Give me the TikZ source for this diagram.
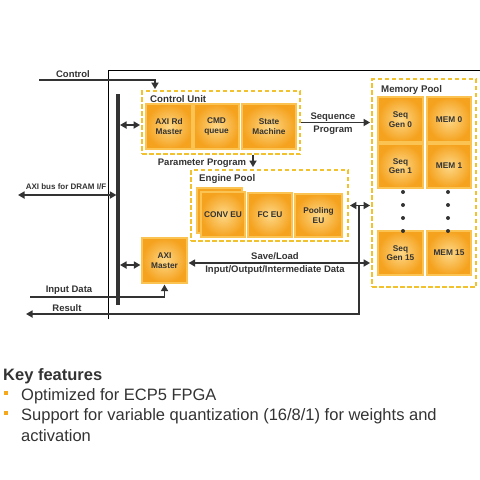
\documentclass[tikz,border=0pt]{standalone}
\usepackage{fontspec}
\setmainfont{Liberation Sans}
\usetikzlibrary{arrows.meta,calc}
\definecolor{ink}{HTML}{333333}
\definecolor{boxin}{HTML}{FDD888}
\definecolor{boxout}{HTML}{F5A21E}
\definecolor{boxline}{HTML}{FAC352}
\definecolor{pooldash}{HTML}{F2C12E}
\definecolor{bulletc}{HTML}{F6A81C}
\begin{document}
\begin{tikzpicture}[x=1pt,y=-1pt,
  blk/.style={draw=boxline, line width=1.2pt, inner color=boxin, outer color=boxout,
    inner sep=0pt, align=center, font=\fontsize{8.3}{9.6}\selectfont\bfseries, text=ink},
  poolbox/.style={draw=pooldash, line width=1.8pt, dash pattern=on 4.5pt off 2.5pt, inner sep=0pt},
  lbl/.style={font=\fontsize{9.5}{11}\selectfont\bfseries, text=ink, inner sep=0pt},
  ttl/.style={font=\fontsize{9.7}{11}\selectfont\bfseries, text=ink, inner sep=0pt, anchor=west},
  conn/.style={draw=ink, line width=1.8pt},
  arr/.style={conn, -{Triangle[length=6.5pt,width=7pt]}},
  darr/.style={conn, {Triangle[length=6.5pt,width=7pt]}-{Triangle[length=6.5pt,width=7pt]}},
  dotm/.style={circle, fill=ink, inner sep=0pt, minimum size=4pt},
  feat/.style={font=\fontsize{16.5}{19}\selectfont, text=ink, inner sep=0pt, anchor=base west},
  bul/.style={fill=bulletc, inner sep=0pt, minimum size=4pt}
]
\useasboundingbox (0,0) rectangle (480,480);

% outer frame
\draw[line width=0.8pt, black] (108,319) -- (108,70) -- (480,70);

% pools
\node[poolbox, minimum width=158pt, minimum height=63pt] (cu) at (221,122.5) {};
\node[poolbox, minimum width=157pt, minimum height=71pt] (ep) at (269.5,205.5) {};
\node[poolbox, minimum width=104pt, minimum height=208pt] (mp) at (424,183) {};
\node[ttl] (cut) at (150,99) {Control Unit};
\node[ttl] (ept) at (199,179) {Engine Pool};
\node[ttl] (mpt) at (381,90) {Memory Pool};

% control unit blocks
\node[blk, minimum width=46pt, minimum height=45pt] (axird) at (169,126.5) {AXI Rd\\Master};
\node[blk, minimum width=45pt, minimum height=45pt] (cmd) at (216.5,126.5) {CMD\\queue};
\node[blk, minimum width=54pt, minimum height=45pt] (sm) at (269,126.5) {State\\Machine};

% engine pool blocks
\node[blk, minimum width=45pt, minimum height=45pt] (convb) at (219.5,210.5) {};
\node[blk, minimum width=44pt, minimum height=45pt] (conv) at (223,214.5) {CONV EU};
\node[blk, minimum width=44pt, minimum height=44pt] (fc) at (270,215) {FC EU};
\node[blk, minimum width=47pt, minimum height=43pt] (pool) at (318.5,215.5) {Pooling\\EU};

% memory pool blocks
\node[blk, minimum width=45pt, minimum height=45pt] (sg0) at (400.5,119.5) {Seq\\Gen 0};
\node[blk, minimum width=44pt, minimum height=45pt] (mem0) at (449,119.5) {MEM 0};
\node[blk, minimum width=45pt, minimum height=44pt] (sg1) at (400.5,166) {Seq\\Gen 1};
\node[blk, minimum width=44pt, minimum height=44pt] (mem1) at (449,166) {MEM 1};
\node[blk, minimum width=45pt, minimum height=44pt] (sg15) at (400.5,253) {Seq\\Gen 15};
\node[blk, minimum width=44pt, minimum height=44pt] (mem15) at (449,253) {MEM 15};
\foreach \yy [count=\i] in {192,205,218,231}{
  \node[dotm] (da\i) at (403,\yy) {};
  \node[dotm] (db\i) at (448,\yy) {};
}

% AXI master
\node[blk, minimum width=45pt, minimum height=45pt] (axim) at (164.5,260.5) {AXI\\Master};

% bus
\coordinate (bt) at (118,94);
\coordinate (bb) at (118,305);
\draw[ink, line width=3.2pt] (bt) -- (bb);

% connectors
\coordinate (ctlin) at (39,80);
\draw[arr] (ctlin) -| ([xshift=-66pt,yshift=1pt]cu.north);
\node[lbl] (ctll) at (73,74.5) {Control};

\draw[darr] ($(bt |- cu.west)+(2,2.5)$) -- ($(cu.west)+(-1,2.5)$);
\draw[arr] (cu.east) -- ([xshift=-1pt]cu.east -| mp.west);
\node[lbl] (seql) at (333,117) {Sequence};
\node[lbl] (prgl) at (333,130) {Program};

\draw[arr] ([xshift=32pt]cu.south) -- ([xshift=32pt,yshift=2pt]cu.south |- ep.north);
\node[lbl] (parl) at (202,163) {Parameter Program};

\coordinate (dram) at (18,195);
\draw[darr] (dram) -- ($(dram -| bt)+(-1.6,0)$);
\node[lbl, font=\fontsize{8}{9}\selectfont\bfseries] (draml) at (66,187) {AXI bus for DRAM I/F};

\draw[darr] ($(bt |- axim.west)+(2,4.5)$) -- ($(axim.west)+(-1,4.5)$);
\draw[darr] ($(axim.east)+(1,2.5)$) -- ($(axim.east -| mp.west)+(-1,2.5)$);
\node[lbl] (svl) at (275,256) {Save/Load};
\node[lbl] (iol) at (275,270) {Input/Output/Intermediate Data};

\draw[darr] ([xshift=1pt]ep.east) -- ([xshift=-1pt]ep.east -| mp.west);
\coordinate (junc) at (359,205.5);
\coordinate (resout) at (26,314);
\draw[arr] (junc) |- (resout);
\node[lbl] (resl) at (67,308) {Result};

\coordinate (inp) at (30,297);
\draw[arr] (inp) -| ([yshift=-1pt]axim.south);
\node[lbl] (inl) at (69,290) {Input Data};

% key features
\node[feat, font=\fontsize{16.5}{19}\selectfont\bfseries] (kf) at (3,380) {Key features};
\node[bul] (b1) at (5.5,393) {};
\node[bul] (b2) at (5.5,413) {};
\node[feat] (f1) at (21,400) {Optimized for ECP5 FPGA};
\node[feat] (f2) at (21,420.5) {Support for variable quantization (16/8/1) for weights and};
\node[feat] (f3) at (21,441) {activation};
\end{tikzpicture}
\end{document}
